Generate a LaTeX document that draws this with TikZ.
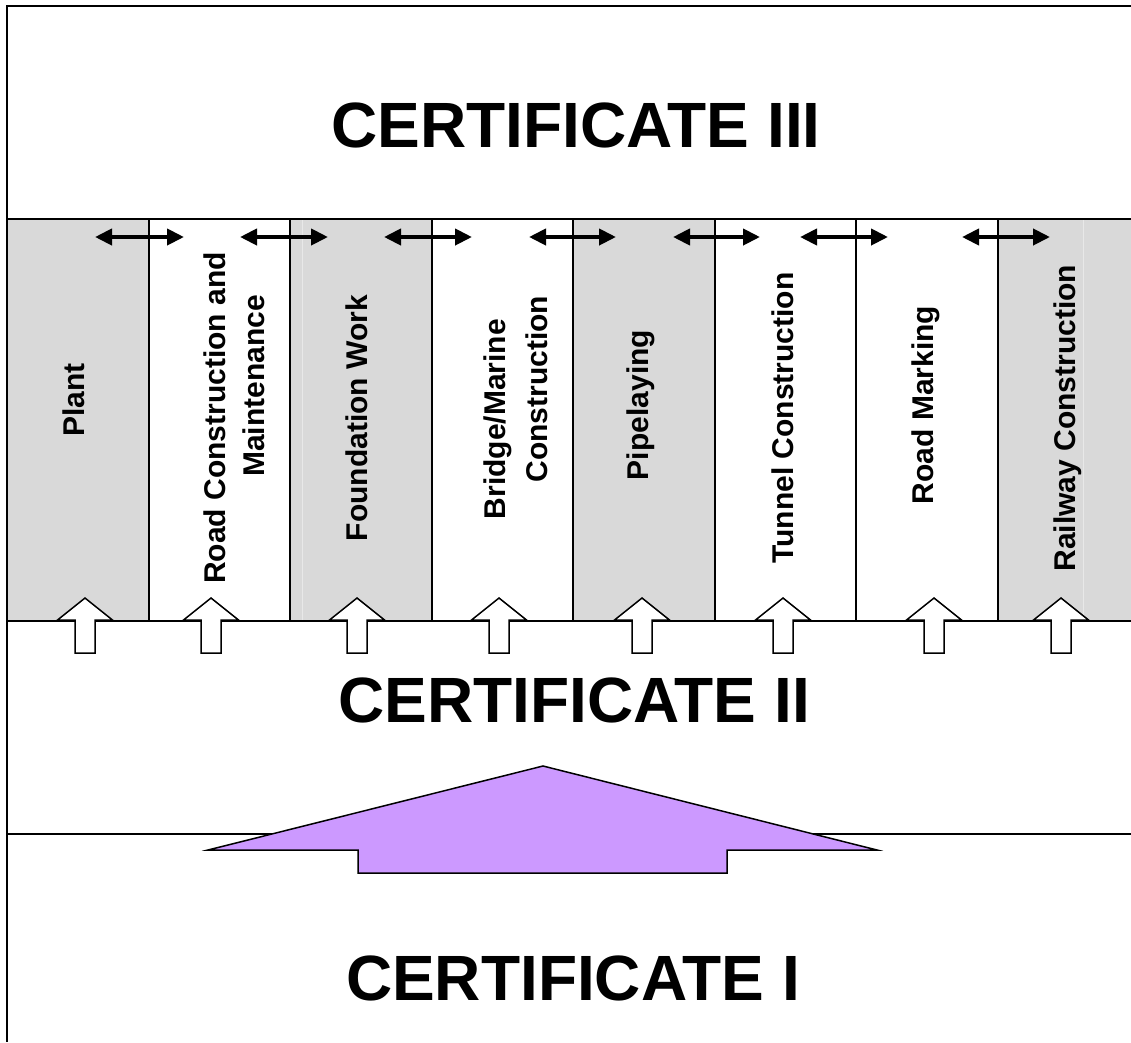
\documentclass[tikz,border=0pt]{standalone}
\usepackage{fontspec}
\setmainfont{Liberation Sans}
\usetikzlibrary{arrows.meta}
\definecolor{colgray}{RGB}{217,217,217}
\definecolor{faintline}{RGB}{232,232,232}
\definecolor{lilac}{RGB}{204,153,255}
\begin{document}
\begin{tikzpicture}[x=1pt,y=-1pt,
  frameline/.style={line width=2pt,black},
  divider/.style={line width=1.5pt,black},
  graycol/.style={fill=colgray},
  biglabel/.style={font=\fontsize{64}{70}\selectfont\bfseries,inner sep=0pt},
  collabel/.style={font=\fontsize{30}{38}\selectfont\bfseries,rotate=90,align=center,inner sep=0pt},
  twoway/.style={line width=4pt,{Triangle[length=17pt,width=16pt]}-{Triangle[length=17pt,width=16pt]}},
  blockup/.style={draw=black,line width=1.5pt,fill=white,line join=miter},
  bigarrow/.style={draw=black,line width=1.5pt,fill=lilac,line join=miter},
  uparrow/.pic={\path[blockup] (0,0) -- (27.5,22) -- (10,22) -- (10,55) -- (-10,55) -- (-10,22) -- (-27.5,22) -- cycle;}
]
\useasboundingbox (0,0) rectangle (1131,1042);
% gray columns
\fill[graycol] (7,219) rectangle (149,621);
\fill[graycol] (290,219) rectangle (432,621);
\fill[graycol] (573,219) rectangle (715,621);
\fill[graycol] (998,219) rectangle (1131,621);
\draw[faintline,line width=1pt] (302,219) -- (302,621);
\draw[faintline,line width=1pt] (1083,219) -- (1083,621);
% dividers
\foreach \x in {149,290,432,573,715,856,998}
  \draw[divider] (\x,219) -- (\x,621);
% frame lines
\draw[frameline] (1131,6) -- (7,6) -- (7,1042);
\draw[frameline] (7,219) -- (1131,219);
\draw[frameline] (7,621) -- (1131,621);
\draw[frameline] (7,834) -- (1131,834);
% titles
\node[biglabel] (c3) at (576,125) {CERTIFICATE III};
\node[biglabel] (c2) at (574,700) {CERTIFICATE II};
\node[biglabel] (c1) at (573,978) {CERTIFICATE I};
% column labels
\node[collabel] (plant) at (74,400) {Plant};
\node[collabel] (roadA) at (215,418) {Road Construction and};
\node[collabel] (roadB) at (254,386) {Maintenance};
\node[collabel] (found) at (357,418) {Foundation Work};
\node[collabel] (bridgeA) at (498,419) {Bridge/Marine};
\node[collabel] (bridgeB) at (537,389) {Construction};
\node[collabel] (pipe) at (641,405) {Pipelaying};
\node[collabel] (tunnel) at (783,418) {Tunnel Construction};
\node[collabel] (marking) at (926,405) {Road Marking};
\node[collabel] (rail) at (1068,418) {Railway Construction};
% double arrows
\foreach \a/\b [count=\i] in {95/184,240/328,384/472,529/616,673/760,800/888,962/1050}{
  \coordinate (dl\i) at (\a,237);
  \coordinate (dr\i) at (\b,237);
  \draw[twoway] (dl\i) -- (dr\i);
}
% block up arrows
\foreach \x in {85,211,357,499,642,783,934,1061}
  \pic at (\x,598) {uparrow};
% big purple arrow
\coordinate (tip) at (543,766);
\path[bigarrow] (tip) -- (877,850) -- (727,850) -- (727,873) -- (358,873) -- (358,850) -- (208,850) -- cycle;
\end{tikzpicture}
\end{document}
